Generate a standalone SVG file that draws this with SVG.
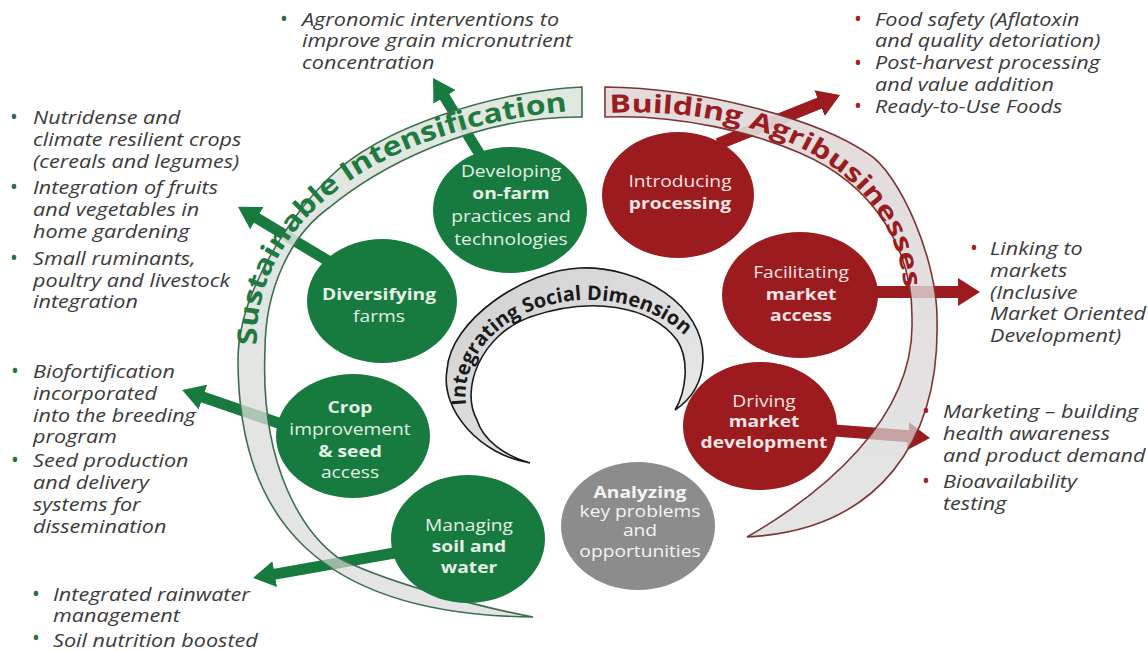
<svg xmlns="http://www.w3.org/2000/svg" width="1148" height="651" viewBox="0 0 1148 651">
  <style>
    .li { font-family: "Open Sans", "Liberation Sans", sans-serif; font-style: italic; font-size: 18px; fill: #3a3a3a; }
    .bul { font-family: "Open Sans", "Liberation Sans", sans-serif; font-size: 21px; text-anchor: middle; }
    .bg { fill: #2a6e45; }
    .br { fill: #a01e22; }
    .ct { font-family: "Open Sans", "Liberation Sans", sans-serif; font-size: 15.5px; text-anchor: middle; }
    .ctg { fill: #e4efe7; }
    .ctr { fill: #f3e3e3; }
    .ctx { fill: #f4f4f4; }
    .b { font-weight: bold; }
    .nodeG { fill: #177a3f; }
    .nodeR { fill: #9b1b1e; }
    .nodeX { fill: #8c8c8c; }
    .armG { stroke: #177a3f; stroke-width: 11; fill: none; }
    .armR { stroke: #9b1b1e; stroke-width: 12; fill: none; }
    .band { font-family: "Open Sans", "Liberation Sans", sans-serif; font-weight: bold; }
  </style>
  <defs>
    <marker id="headG" markerUnits="userSpaceOnUse" markerWidth="22" markerHeight="26" viewBox="0 0 22 26" refX="1" refY="13" orient="auto">
      <path d="M0,0 L22,13 L0,26 Z" fill="#177a3f"/>
    </marker>
    <marker id="headR" markerUnits="userSpaceOnUse" markerWidth="22" markerHeight="28" viewBox="0 0 22 28" refX="1" refY="14" orient="auto">
      <path d="M0,0 L22,14 L0,28 Z" fill="#9b1b1e"/>
    </marker>
    <linearGradient id="fillG" gradientUnits="userSpaceOnUse" x1="0" y1="87" x2="0" y2="617">
      <stop offset="0" stop-color="#dfe6df" stop-opacity="0.95"/>
      <stop offset="1" stop-color="#d6d6d6" stop-opacity="0.65"/>
    </linearGradient>
    <linearGradient id="fillR" gradientUnits="userSpaceOnUse" x1="0" y1="87" x2="0" y2="537">
      <stop offset="0" stop-color="#e2dada" stop-opacity="0.95"/>
      <stop offset="1" stop-color="#d6d6d6" stop-opacity="0.65"/>
    </linearGradient>
    <linearGradient id="fillS" x1="0" y1="0" x2="1" y2="1">
      <stop offset="0" stop-color="#cfcfcf"/>
      <stop offset="1" stop-color="#ececec"/>
    </linearGradient>
    <path id="pG" d="M257,345 C252,248 340,130 580,110"/>
    <path id="pR" d="M610,113 C730,106 899,150 905,300"/>
    <path id="pS" d="M466,405 C460,350 510,305 580,300 C630,298 672,318 696,347"/>
  </defs>

  <rect width="1148" height="651" fill="#ffffff"/>

  <!-- arrows leading from the activity circles to their outcome lists -->
  <g id="connectors">
    <line class="armG" x1="482" y1="158" x2="444" y2="96" marker-end="url(#headG)"/>
    <line class="armG" x1="330" y1="262" x2="256" y2="217.6" marker-end="url(#headG)"/>
    <line class="armG" x1="290" y1="427" x2="202" y2="396.8" marker-end="url(#headG)"/>
    <line class="armG" x1="400" y1="552" x2="273.7" y2="574.3" marker-end="url(#headG)"/>
    <line class="armR" x1="718" y1="144" x2="820.5" y2="102.8" marker-end="url(#headR)"/>
    <line class="armR" x1="868" y1="292" x2="959" y2="292" marker-end="url(#headR)"/>
    <line class="armR" x1="828" y1="430" x2="909" y2="436.3" marker-end="url(#headR)"/>
  </g>

  <!-- curved banners -->
  <g id="band-sustainable">
    <path d="M582,87 C490,92 380,128 330,177 C294,212 238,290 238,360 C238,520 320,615 533,617 C470,605 380,580 337,557 C305,533 260,470 265,350 C265,290 290,235 330,207 C375,170 470,116 582,117 Z" fill="url(#fillG)" stroke="#3d6e4e" stroke-width="1.6"/>
    <text class="band" font-size="27" fill="#1e7a3e"><textPath href="#pG" textLength="428" lengthAdjust="spacingAndGlyphs">Sustainable Intensification</textPath></text>
  </g>
  <g id="band-agribusiness">
    <path d="M605,87 C700,88 815,118 867,153 C900,172 938,262 937,320 C940,440 880,530 747,537 C820,495 915,420 912,320 C913,250 875,185 800,153 C754,133 680,114 605,117 Z" fill="url(#fillR)" stroke="#7d3434" stroke-width="1.6"/>
    <text class="band" font-size="25" fill="#9b1b1e"><textPath href="#pR" textLength="378" lengthAdjust="spacingAndGlyphs">Building Agribusinesses</textPath></text>
  </g>
  <g id="band-social">
    <path d="M530,463 C480,455 440,410 447,370 C450,320 525,270 580,268 C640,266 705,305 703,360 C702,385 690,400 675,410 C686,392 690,360 677,340 C650,305 590,296 530,317 C480,335 460,390 477,420 C483,440 505,456 530,463 Z" fill="url(#fillS)" stroke="#1a1a1a" stroke-width="1.6"/>
    <text class="band" font-size="20" fill="#1a1a1a"><textPath href="#pS" textLength="287" lengthAdjust="spacingAndGlyphs">Integrating Social Dimension</textPath></text>
  </g>

  <!-- activity circles -->
  <g id="node-onfarm">
    <ellipse class="nodeG" cx="510" cy="210" rx="77" ry="63"/>
    <text class="ct ctg" transform="translate(511,0) scale(1.24,1)"><tspan x="0" y="177">Developing</tspan><tspan x="0" y="199" class="b">on-farm</tspan><tspan x="0" y="222">practices and</tspan><tspan x="0" y="245">technologies</tspan></text>
  </g>
  <g id="node-processing">
    <ellipse class="nodeR" cx="678" cy="195" rx="76" ry="63"/>
    <text class="ct ctr" transform="translate(680,0) scale(1.24,1)"><tspan x="0" y="187">Introducing</tspan><tspan x="0" y="209" class="b">processing</tspan></text>
  </g>
  <g id="node-diversifying">
    <ellipse class="nodeG" cx="382" cy="301" rx="75" ry="62"/>
    <text class="ct ctg" transform="translate(379,0) scale(1.24,1)"><tspan x="0" y="300" class="b">Diversifying</tspan><tspan x="0" y="322">farms</tspan></text>
  </g>
  <g id="node-crop">
    <ellipse class="nodeG" cx="353" cy="436" rx="77" ry="62"/>
    <text class="ct ctg" transform="translate(350,0) scale(1.24,1)"><tspan x="0" y="413" class="b">Crop</tspan><tspan x="0" y="435">improvement</tspan><tspan x="0" y="457" class="b">&amp; seed</tspan><tspan x="0" y="478">access</tspan></text>
  </g>
  <g id="node-soil">
    <ellipse class="nodeG" cx="468" cy="539" rx="77" ry="64"/>
    <text class="ct ctg" transform="translate(469,0) scale(1.24,1)"><tspan x="0" y="531">Managing</tspan><tspan x="0" y="552" class="b">soil and</tspan><tspan x="0" y="573" class="b">water</tspan></text>
  </g>
  <g id="node-analyzing">
    <ellipse class="nodeX" cx="638" cy="526" rx="77" ry="64"/>
    <text class="ct ctx" transform="translate(640,0) scale(1.24,1)"><tspan x="0" y="498" class="b">Analyzing</tspan><tspan x="0" y="517">key problems</tspan><tspan x="0" y="536">and</tspan><tspan x="0" y="557">opportunities</tspan></text>
  </g>
  <g id="node-market-access">
    <ellipse class="nodeR" cx="800" cy="295" rx="78" ry="63"/>
    <text class="ct ctr" transform="translate(801,0) scale(1.24,1)"><tspan x="0" y="278">Facilitating</tspan><tspan x="0" y="300" class="b">market</tspan><tspan x="0" y="321" class="b">access</tspan></text>
  </g>
  <g id="node-market-dev">
    <ellipse class="nodeR" cx="760" cy="426" rx="77" ry="64"/>
    <text class="ct ctr" transform="translate(764,0) scale(1.24,1)"><tspan x="0" y="407">Driving</tspan><tspan x="0" y="427" class="b">market</tspan><tspan x="0" y="448" class="b">development</tspan></text>
  </g>

  <!-- outcome lists -->
  <g id="list-agronomic">
    <text class="bul bg" x="284" y="26">•</text>
    <text class="li" transform="translate(302,0) scale(1.2,1)"><tspan x="0" y="26">Agronomic interventions to</tspan><tspan x="0" y="47.5">improve grain micronutrient</tspan><tspan x="0" y="69">concentration</tspan></text>
  </g>
  <g id="list-diversify">
    <text class="bul bg" x="14" y="124">•</text>
    <text class="bul bg" x="14" y="194">•</text>
    <text class="bul bg" x="14" y="265">•</text>
    <text class="li" transform="translate(33,0) scale(1.2,1)"><tspan x="0" y="124">Nutridense and</tspan><tspan x="0" y="146">climate resilient crops</tspan><tspan x="0" y="168">(cereals and legumes)</tspan><tspan x="0" y="194">Integration of fruits</tspan><tspan x="0" y="216">and vegetables in</tspan><tspan x="0" y="238">home gardening</tspan><tspan x="0" y="265">Small ruminants,</tspan><tspan x="0" y="287">poultry and livestock</tspan><tspan x="0" y="308">integration</tspan></text>
  </g>
  <g id="list-seed">
    <text class="bul bg" x="15" y="378">•</text>
    <text class="bul bg" x="15" y="467">•</text>
    <text class="li" transform="translate(33,0) scale(1.2,1)"><tspan x="0" y="378">Biofortification</tspan><tspan x="0" y="400">incorporated</tspan><tspan x="0" y="422">into the breeding</tspan><tspan x="0" y="443">program</tspan><tspan x="0" y="467">Seed production</tspan><tspan x="0" y="489">and delivery</tspan><tspan x="0" y="511">systems for</tspan><tspan x="0" y="533">dissemination</tspan></text>
  </g>
  <g id="list-soil">
    <text class="bul bg" x="36" y="601">•</text>
    <text class="bul bg" x="36" y="645">•</text>
    <text class="li" transform="translate(53,0) scale(1.2,1)"><tspan x="0" y="601">Integrated rainwater</tspan><tspan x="0" y="622">management</tspan><tspan x="0" y="647">Soil nutrition boosted</tspan></text>
  </g>
  <g id="list-processing">
    <text class="bul br" x="858" y="26">•</text>
    <text class="bul br" x="858" y="69.5">•</text>
    <text class="bul br" x="858" y="113">•</text>
    <text class="li" transform="translate(875,0) scale(1.2,1)"><tspan x="0" y="26">Food safety (Aflatoxin</tspan><tspan x="0" y="47.5">and quality detoriation)</tspan><tspan x="0" y="69.5">Post-harvest processing</tspan><tspan x="0" y="91">and value addition</tspan><tspan x="0" y="113">Ready-to-Use Foods</tspan></text>
  </g>
  <g id="list-markets">
    <text class="bul br" x="974" y="255">•</text>
    <text class="li" transform="translate(990,0) scale(1.2,1)"><tspan x="0" y="255">Linking to</tspan><tspan x="0" y="277">markets</tspan><tspan x="0" y="299">(Inclusive</tspan><tspan x="0" y="320">Market Oriented</tspan><tspan x="0" y="342">Development)</tspan></text>
  </g>
  <g id="list-marketing">
    <text class="bul br" x="926" y="418">•</text>
    <text class="bul br" x="926" y="488">•</text>
    <text class="li" transform="translate(943,0) scale(1.2,1)"><tspan x="0" y="418">Marketing – building</tspan><tspan x="0" y="440">health awareness</tspan><tspan x="0" y="462">and product demand</tspan><tspan x="0" y="488">Bioavailability</tspan><tspan x="0" y="510">testing</tspan></text>
  </g>
</svg>
